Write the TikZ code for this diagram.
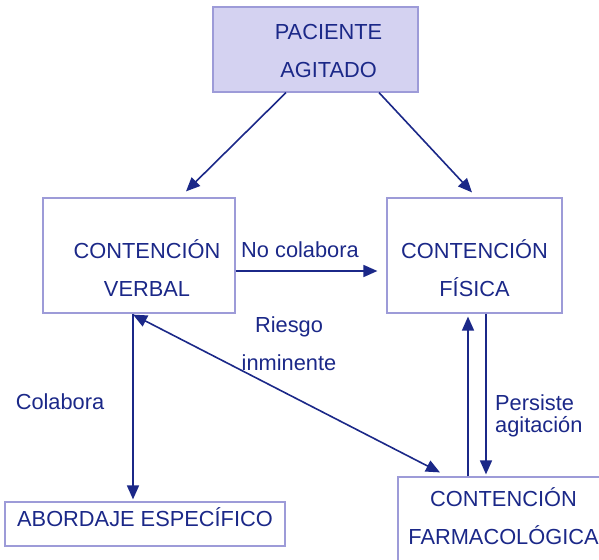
\documentclass[tikz,border=0pt]{standalone}
\usepackage{fontspec}
\setmainfont{Liberation Sans}
\usepackage{tikz}
\usetikzlibrary{arrows.meta}
\definecolor{navy}{HTML}{1B2888}
\definecolor{lavender}{HTML}{9D9BD8}
\definecolor{lilac}{HTML}{D4D2F1}
\tikzset{
  box/.style={draw=lavender,line width=1.2pt,inner sep=0pt},
  txt/.style={text=navy,align=center,inner sep=0pt,font=\fontsize{21.8}{38}\selectfont},
  lbl/.style={text=navy,align=left,inner sep=0pt},
  arrow/.style={->,>={Triangle[length=14pt,width=12pt]},line width=1.6pt,draw=navy}
}

\begin{document}
\begin{tikzpicture}[x=1pt,y=-1pt,font=\fontsize{21.8}{25}\selectfont]
\useasboundingbox (0,0) rectangle (599,559);
\clip (0,0) rectangle (599,559);
\node[box,fill=lilac,minimum width=205pt,minimum height=85pt](pac) at (315.5,49.5){};
\node[txt](pac-t) at ([shift={(13,1)}]pac.center){PACIENTE\\AGITADO};
\node[box,minimum width=192pt,minimum height=115pt](verbal) at (139,255.5){};
\node[txt](verbal-t) at ([shift={(8,12.5)}]verbal.center){CONTENCIÓN\\VERBAL};
\node[box,minimum width=175pt,minimum height=115pt](fisica) at (474.5,255.5){};
\node[txt](fisica-t) at ([shift={(0,12.5)}]fisica.center){CONTENCIÓN\\FÍSICA};
\node[box,minimum width=280pt,minimum height=44pt](abord) at (145,524){};
\node[txt](abord-t) at ([shift={(0,-6.5)}]abord.center){ABORDAJE ESPECÍFICO};
\node[box,minimum width=211pt,minimum height=113pt](farma) at (503.5,533.5){};
\node[txt](farma-t) at ([shift={(0,-17)}]farma.center){CONTENCIÓN\\FARMACOLÓGICA};
% labels
\node[lbl](nocol) at (300,249.5){No colabora};
\node[lbl](colab) at (60,402){Colabora};
\node[lbl,align=center,font=\fontsize{21.8}{38}\selectfont](riesgo) at (289,344){Riesgo\\inminente};
\node[lbl,anchor=north west,font=\fontsize{21.8}{22}\selectfont](persiste) at (495,394){Persiste\\agitación};
% arrows
\draw[arrow]([xshift=-29.5pt]pac.south) -- ([xshift=47pt,yshift=6pt]verbal.north);
\draw[arrow]([xshift=63.5pt]pac.south) -- ([xshift=-2.5pt,yshift=5pt]fisica.north);
\draw[arrow]([yshift=-15.5pt]verbal.east) -- ([xshift=-9pt,yshift=-15.5pt]fisica.west);
\draw[arrow]([xshift=-6pt]verbal.south) -- ([xshift=-12pt,yshift=2pt]abord.north);
\draw[arrow,<->]([xshift=-6pt,yshift=-1pt]verbal.south) -- ([xshift=-63.5pt,yshift=4pt]farma.north);
\draw[arrow]([xshift=-35.5pt]farma.north) -- ([xshift=-6.5pt,yshift=-3pt]fisica.south);
\draw[arrow]([xshift=11.5pt]fisica.south) -- ([xshift=-17.5pt,yshift=2pt]farma.north);
\end{tikzpicture}
\end{document}
